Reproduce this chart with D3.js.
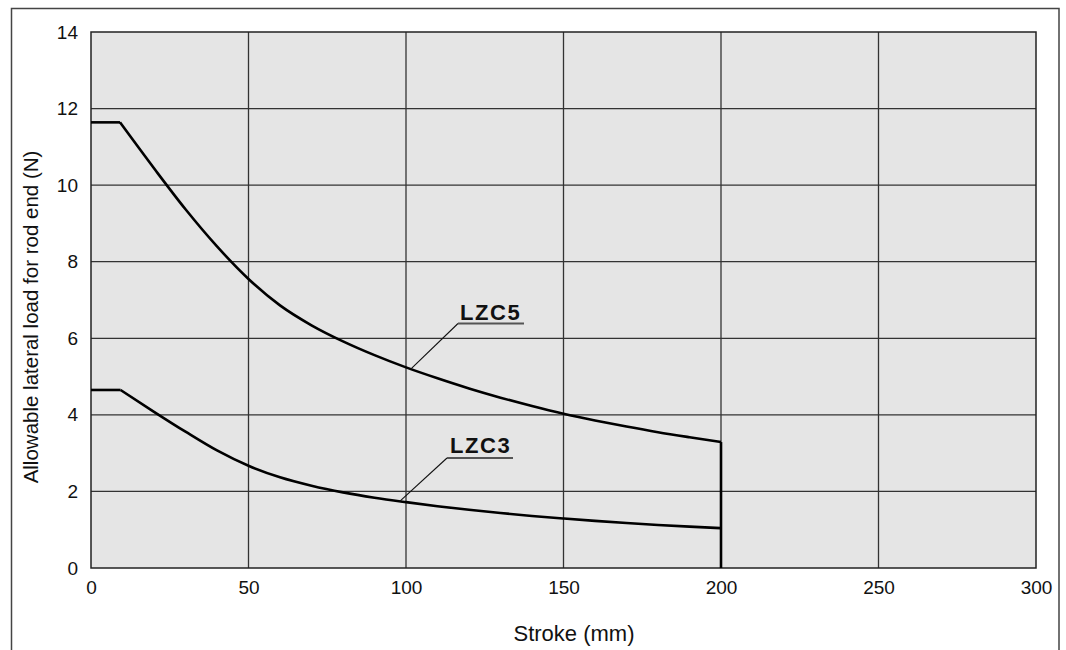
<!DOCTYPE html>
<html>
<head>
<meta charset="utf-8">
<script src="https://cdn.jsdelivr.net/npm/d3@7"></script>
<style>
  body { margin: 0; background: #fff; }
  svg text { font-family: "Liberation Sans", Arial, sans-serif; fill: #111; }
</style>
</head>
<body>
<svg id="chart" width="1066" height="650"></svg>
<script>
"use strict";

// stroke (mm) vs allowable lateral load (N)
var lzc5 = [[0,11.64],[9.2,11.64],[20,10.44],[30,9.37],[40,8.40],[50,7.55],[60,6.86],[70,6.34],
            [80,5.92],[90,5.56],[100,5.24],[110,4.955],[120,4.69],[130,4.45],[140,4.23],[150,4.03],
            [160,3.855],[170,3.695],[180,3.547],[190,3.415],[200,3.29]];
var lzc3 = [[0,4.65],[9.4,4.65],[20,4.08],[30,3.56],[40,3.07],[50,2.67],[60,2.37],[70,2.15],
            [80,1.975],[90,1.835],[100,1.72],[110,1.615],[120,1.52],[130,1.435],[140,1.36],[150,1.293],
            [160,1.23],[170,1.175],[180,1.125],[190,1.08],[200,1.04]];
var xTicks = [0,50,100,150,200,250,300];
var yTicks = [0,2,4,6,8,10,12,14];
// label text, [stroke, load] on the curve the leader points at
var labels = [
  {name:"LZC5", at:[101.5,5.195]},
  {name:"LZC3", at:[98,1.74]}
];

var svg = d3.select("#chart");
var pLeft = 91, pRight = 1036, pTop = 32, pBottom = 568;

var x = d3.scaleLinear().domain([0,300]).range([pLeft,pRight]);
var y = d3.scaleLinear().domain([0,14]).range([pBottom,pTop]);

// outer frame (open at the bottom)
svg.append("path")
  .attr("d", "M11.5,650 L11.5,8.5 L1059,8.5 L1059,650")
  .attr("fill","none").attr("stroke","#444").attr("stroke-width",1.5);

svg.append("rect")
  .attr("x",pLeft).attr("y",pTop).attr("width",pRight-pLeft).attr("height",pBottom-pTop)
  .attr("fill","#e5e5e5");

var grid = svg.append("g");
grid.selectAll(".gx").data(xTicks.slice(1,-1)).enter().append("line")
  .attr("x1",function(d){ return x(d); }).attr("x2",function(d){ return x(d); })
  .attr("y1",pTop).attr("y2",pBottom)
  .attr("stroke","#333").attr("stroke-width",1.3);
grid.selectAll(".gy").data(yTicks.slice(1,-1)).enter().append("line")
  .attr("y1",function(d){ return y(d); }).attr("y2",function(d){ return y(d); })
  .attr("x1",pLeft).attr("x2",pRight)
  .attr("stroke","#333").attr("stroke-width",1.3);

svg.append("rect")
  .attr("x",pLeft).attr("y",pTop).attr("width",pRight-pLeft).attr("height",pBottom-pTop)
  .attr("fill","none").attr("stroke","#222").attr("stroke-width",1.5);

// axes: labels only
var xAxis = svg.append("g").attr("transform","translate(0,"+pBottom+")")
  .call(d3.axisBottom(x).tickValues(xTicks).tickSize(0).tickPadding(13));
var yAxis = svg.append("g").attr("transform","translate("+pLeft+",0)")
  .call(d3.axisLeft(y).tickValues(yTicks).tickSize(0).tickPadding(13));
[xAxis,yAxis].forEach(function(a){
  a.select(".domain").remove();
  a.selectAll("text").attr("font-size",19).attr("fill","#111")
    .attr("font-family","Liberation Sans, Arial, sans-serif");
});

// curves: flat part straight, falling part smooth
var lineLin = d3.line().x(function(d){ return x(d[0]); }).y(function(d){ return y(d[1]); });
var lineCurve = d3.line().curve(d3.curveMonotoneX)
  .x(function(d){ return x(d[0]); }).y(function(d){ return y(d[1]); });

[lzc5, lzc3].forEach(function(s){
  svg.append("path").attr("d", lineLin(s.slice(0,2)))
    .attr("fill","none").attr("stroke","#000").attr("stroke-width",2.6);
  svg.append("path").attr("d", lineCurve(s.slice(1)))
    .attr("fill","none").attr("stroke","#000").attr("stroke-width",2.6);
});
// vertical drop at the stroke limit
svg.append("path").attr("d", lineLin([[200, lzc5[lzc5.length-1][1]],[200,0]]))
  .attr("fill","none").attr("stroke","#000").attr("stroke-width",2.6);

// labels with leader lines and underline
var labelPos = [{tx:460, ty:320, ux1:458, ux2:524, uy:323.5},
                {tx:450, ty:453, ux1:447, ux2:513, uy:458}];
labels.forEach(function(l,i){
  var p = labelPos[i];
  svg.append("line")
    .attr("x1",x(l.at[0])).attr("y1",y(l.at[1])).attr("x2",p.ux1).attr("y2",p.uy)
    .attr("stroke","#111").attr("stroke-width",1.1);
  svg.append("line")
    .attr("x1",p.ux1).attr("x2",p.ux2).attr("y1",p.uy).attr("y2",p.uy)
    .attr("stroke","#555").attr("stroke-width",2);
  svg.append("text").attr("x",p.tx).attr("y",p.ty)
    .attr("font-size",22).attr("font-weight","bold").attr("letter-spacing",1.6)
    .text(l.name);
});

// axis titles
svg.append("text").attr("x",574).attr("y",641).attr("text-anchor","middle")
  .attr("font-size",22).text("Stroke (mm)");
svg.append("text").attr("transform","translate(38,317) rotate(-90)").attr("text-anchor","middle")
  .attr("font-size",20.5).text("Allowable lateral load for rod end (N)");
</script>
</body>
</html>
